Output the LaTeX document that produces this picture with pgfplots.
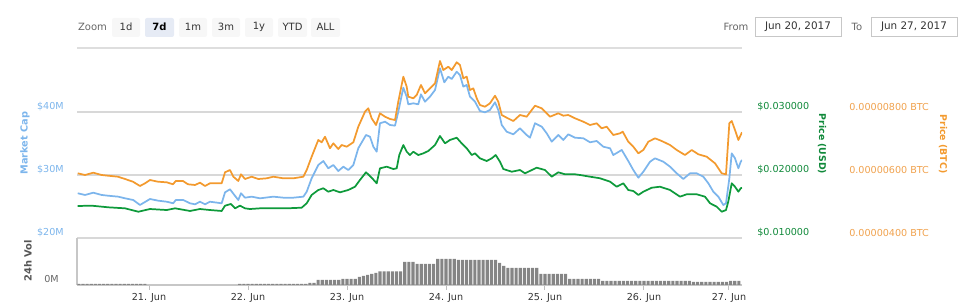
\documentclass[border=0pt]{standalone}
\usepackage{pgfplots}
\pgfplotsset{compat=1.18}
\usepackage{pgfplotstable}
\usepackage{fontspec}
\setmainfont{DejaVu Sans}
\definecolor{mcap}{HTML}{7CB5EC}
\definecolor{usd}{HTML}{0E9A3B}
\definecolor{usdtxt}{HTML}{10893A}
\definecolor{btc}{HTML}{F39A2E}
\definecolor{btctxt}{HTML}{F0A24E}
\definecolor{gridc}{HTML}{D8D8D8}
\definecolor{btnbg}{HTML}{F7F7F7}
\definecolor{btnsel}{HTML}{E6EBF5}
\definecolor{txt}{HTML}{333333}
\definecolor{voltxt}{HTML}{555555}
\definecolor{volbar}{HTML}{858585}

% Market cap (USD millions) vs day (0 = 20 Jun 00:00)
\pgfplotstableread{
x y
0.280 27.10
0.354 26.83
0.437 27.19
0.522 26.83
0.589 26.71
0.690 26.56
0.758 26.30
0.841 26.03
0.909 25.24
1.010 26.19
1.094 25.92
1.179 25.76
1.245 25.51
1.270 26.03
1.346 26.03
1.414 25.51
1.465 25.35
1.515 25.76
1.566 25.35
1.616 25.76
1.734 25.51
1.768 27.25
1.818 27.73
1.862 26.83
1.902 26.03
1.929 27.10
1.970 26.40
2.037 26.56
2.121 26.30
2.256 26.56
2.357 26.40
2.458 26.40
2.559 26.56
2.593 27.35
2.643 29.48
2.710 31.59
2.761 32.22
2.811 31.06
2.862 31.59
2.912 30.63
2.963 31.32
3.013 30.79
3.064 31.59
3.114 34.24
3.192 36.35
3.232 36.08
3.266 34.49
3.300 33.70
3.333 38.21
3.384 38.46
3.434 37.94
3.485 37.83
3.518 40.05
3.569 43.86
3.603 42.43
3.619 41.22
3.670 41.38
3.720 41.22
3.747 42.81
3.788 41.63
3.838 42.43
3.889 43.49
3.939 46.94
3.983 44.71
4.023 45.60
4.058 45.24
4.108 46.40
4.141 45.87
4.175 44.02
4.209 44.29
4.242 42.43
4.293 41.63
4.343 40.16
4.394 39.95
4.444 40.32
4.495 41.54
4.528 40.32
4.563 37.94
4.613 36.87
4.680 36.46
4.747 37.41
4.815 36.35
4.848 35.92
4.899 38.21
4.967 37.67
5.017 36.62
5.068 35.29
5.134 36.35
5.185 35.56
5.235 36.46
5.303 35.92
5.387 35.83
5.455 35.19
5.522 35.40
5.589 34.49
5.657 34.24
5.690 33.17
5.775 33.97
5.841 32.22
5.892 30.79
5.943 29.57
5.993 30.52
6.061 32.11
6.111 32.65
6.195 32.11
6.263 31.32
6.330 30.27
6.397 29.37
6.465 30.27
6.532 30.27
6.599 29.73
6.650 28.68
6.700 27.35
6.751 26.56
6.801 25.24
6.828 25.51
6.862 29.48
6.886 33.44
6.919 32.65
6.953 31.06
6.977 32.11
6.990 32.38
}\mcaptable

% Price in USD
\pgfplotstableread{
x y
0.280 0.01508
0.421 0.01513
0.589 0.01487
0.758 0.01471
0.892 0.01417
1.010 0.01460
1.179 0.01444
1.263 0.01471
1.414 0.01429
1.515 0.01460
1.616 0.01444
1.734 0.01429
1.768 0.01513
1.828 0.01540
1.869 0.01471
1.919 0.01513
1.970 0.01471
2.020 0.01460
2.121 0.01471
2.256 0.01471
2.391 0.01471
2.542 0.01481
2.593 0.01551
2.643 0.01683
2.710 0.01762
2.761 0.01789
2.811 0.01735
2.862 0.01762
2.929 0.01725
3.013 0.01762
3.081 0.01814
3.131 0.01921
3.192 0.02043
3.249 0.01957
3.300 0.01868
3.333 0.02106
3.401 0.02132
3.468 0.02095
3.502 0.02106
3.528 0.02317
3.569 0.02476
3.603 0.02370
3.636 0.02317
3.670 0.02370
3.720 0.02317
3.771 0.02344
3.821 0.02381
3.889 0.02476
3.939 0.02619
3.990 0.02503
4.040 0.02556
4.108 0.02592
4.158 0.02503
4.209 0.02424
4.260 0.02317
4.293 0.02344
4.343 0.02265
4.411 0.02222
4.462 0.02265
4.502 0.02317
4.545 0.02211
4.579 0.02095
4.664 0.02052
4.747 0.02079
4.798 0.02027
4.916 0.02116
5.000 0.02079
5.068 0.01973
5.134 0.02043
5.202 0.02011
5.303 0.02011
5.354 0.02000
5.455 0.01973
5.556 0.01948
5.657 0.01894
5.724 0.01814
5.791 0.01868
5.841 0.01762
5.892 0.01746
5.943 0.01683
5.993 0.01735
6.078 0.01798
6.162 0.01814
6.263 0.01762
6.364 0.01656
6.431 0.01694
6.532 0.01694
6.616 0.01656
6.667 0.01551
6.734 0.01497
6.785 0.01417
6.828 0.01444
6.851 0.01576
6.886 0.01868
6.919 0.01814
6.953 0.01735
6.977 0.01789
6.990 0.01798
}\usdtable

% Price in BTC (units of 0.000001 BTC)
\pgfplotstableread{
x y
0.280 6.054
0.354 6.000
0.437 6.073
0.522 6.000
0.586 5.978
0.687 5.946
0.758 5.873
0.838 5.787
0.909 5.651
0.960 5.737
1.010 5.841
1.091 5.787
1.179 5.768
1.242 5.705
1.270 5.810
1.343 5.810
1.394 5.705
1.465 5.683
1.515 5.756
1.566 5.651
1.616 5.737
1.734 5.737
1.768 6.086
1.818 6.159
1.852 5.946
1.902 5.810
1.929 6.022
1.970 5.873
2.037 5.946
2.104 5.873
2.189 5.895
2.256 5.946
2.357 5.895
2.458 5.895
2.559 5.946
2.593 6.159
2.643 6.581
2.710 7.111
2.744 7.038
2.778 7.216
2.828 6.848
2.862 7.006
2.912 6.825
2.946 6.952
2.997 6.898
3.064 7.038
3.114 7.533
3.182 8.010
3.215 8.117
3.249 7.800
3.293 7.587
3.333 7.959
3.384 7.851
3.434 7.778
3.485 7.746
3.518 8.327
3.569 9.121
3.603 8.803
3.619 8.486
3.670 8.435
3.704 8.540
3.747 8.857
3.788 8.594
3.838 8.752
3.889 8.911
3.939 9.619
3.973 9.333
4.023 9.438
4.058 9.333
4.108 9.578
4.141 9.492
4.175 9.070
4.209 9.121
4.242 8.698
4.276 8.752
4.310 8.435
4.343 8.222
4.394 8.168
4.444 8.276
4.495 8.517
4.528 8.327
4.563 7.905
4.613 7.819
4.680 7.714
4.747 7.905
4.815 7.851
4.899 8.200
4.967 8.117
5.051 7.851
5.134 7.959
5.185 7.883
5.235 7.905
5.303 7.800
5.387 7.692
5.455 7.587
5.522 7.641
5.573 7.483
5.623 7.533
5.690 7.270
5.758 7.324
5.785 7.375
5.841 7.057
5.892 6.898
5.943 6.689
5.993 6.794
6.044 7.057
6.111 7.165
6.179 7.079
6.263 6.952
6.330 6.794
6.414 6.635
6.482 6.794
6.549 6.657
6.633 6.581
6.717 6.371
6.785 6.054
6.828 6.022
6.862 7.641
6.886 7.714
6.919 7.429
6.953 7.111
6.977 7.270
6.990 7.356
}\btctable

% 24h volume (USD millions) by hour (0 = 20 Jun 00:00)
\pgfplotstableread{
h v
7 0.04
8 0.04
9 0.04
10 0.04
11 0.04
12 0.04
13 0.04
14 0.04
15 0.04
16 0.04
17 0.04
18 0.04
19 0.04
20 0.04
21 0.04
22 0.04
23 0.04
46 0.04
47 0.04
48 0.04
49 0.04
50 0.04
51 0.04
52 0.04
53 0.04
54 0.04
55 0.04
56 0.04
57 0.04
58 0.04
59 0.04
60 0.04
61 0.04
62 0.04
63 0.08
64 0.08
65 0.20
66 0.20
67 0.20
68 0.20
69 0.20
70 0.20
71 0.24
72 0.24
73 0.24
74 0.24
75 0.32
76 0.36
77 0.40
78 0.44
79 0.48
80 0.54
81 0.54
82 0.54
83 0.54
84 0.54
85 0.54
86 0.92
87 0.92
88 0.92
89 0.84
90 0.84
91 0.84
92 0.84
93 0.84
94 1.04
95 1.04
96 1.04
97 1.04
98 1.04
99 1.00
100 1.00
101 1.00
102 1.00
103 1.00
104 1.00
105 1.00
106 1.00
107 1.00
108 1.00
109 0.88
110 0.76
111 0.68
112 0.68
113 0.68
114 0.68
115 0.68
116 0.68
117 0.68
118 0.68
119 0.44
120 0.44
121 0.44
122 0.44
123 0.44
124 0.44
125 0.44
126 0.24
127 0.24
128 0.24
129 0.24
130 0.24
131 0.24
132 0.24
133 0.24
134 0.16
135 0.16
136 0.16
137 0.16
138 0.16
139 0.16
140 0.16
141 0.16
142 0.16
143 0.16
144 0.16
145 0.16
146 0.16
147 0.16
148 0.16
149 0.16
150 0.16
151 0.16
152 0.16
153 0.16
154 0.16
155 0.16
156 0.12
157 0.12
158 0.12
159 0.12
160 0.12
161 0.12
162 0.12
163 0.12
164 0.12
165 0.16
166 0.16
167 0.16
}\voltable

\pgfplotsset{
  mainax/.style={
    at={(57.75pt,48.75pt)}, anchor=south west,
    width=498.75pt, height=142.5pt, scale only axis,
    xmin=0.27273, xmax=6.9899,
    axis line style={draw=none},
    xtick=\empty,
    major tick length=0pt,
    scaled y ticks=false,
    tick label style={font=\fontsize{7.2}{8}\selectfont, inner sep=0pt},
  },
}

\begin{document}
\begin{tikzpicture}[x=0.75pt,y=0.75pt]
\path[use as bounding box] (0,0) rectangle (960,303);

% ---- range selector ----
\node[text=black!60, font=\fontsize{7.5}{9}\selectfont] at (92.5,276) {Zoom};
\foreach \a/\b/\t in {112/140/1d,179/207/1m,212/240/3m,245/273/1y,278/307/YTD,311/340/ALL}{
  \fill[btnbg, rounded corners=1.5pt] (\a,266) rectangle (\b,285);
  \node[text=txt, font=\fontsize{7.5}{9}\selectfont] at ({(\a+\b)/2},276) {\t};
}
\fill[btnsel, rounded corners=1.5pt] (145,266) rectangle (174,285);
\node[text=black, font=\bfseries\fontsize{7.5}{9}\selectfont] at (159.5,276) {7d};

\node[text=black!60, font=\fontsize{7.5}{9}\selectfont] at (736,276) {From};
\draw[black!22, line width=0.75pt, fill=white] (755,266) rectangle (841,285);
\node[text=txt, font=\fontsize{7.8}{9}\selectfont] at (798,276) {Jun 20, 2017};
\node[text=black!60, font=\fontsize{7.5}{9}\selectfont] at (857,276) {To};
\draw[black!22, line width=0.75pt, fill=white] (871,266) rectangle (957,285);
\node[text=txt, font=\fontsize{7.8}{9}\selectfont] at (914,276) {Jun 27, 2017};

\draw[black!13, line width=1.1pt] (77,255) -- (742,255);

% ---- market cap axis (left) ----
\begin{axis}[mainax,
  ymin=20, ymax=50.159,
  ytick={20,30,40},
  yticklabels={\$20M,\$30M,\$40M},
  yticklabel style={anchor=east, xshift=-9.75pt, yshift=3.75pt, text=mcap},
  ymajorgrids, grid style={gridc, line width=0.9pt},
]
\addplot[mcap, line width=1.3pt, line join=round] table[x=x,y=y]{\mcaptable};
\end{axis}

% ---- price USD axis ----
\begin{axis}[mainax,
  ymin=0.01, ymax=0.040159,
  ytick={0.01,0.02,0.03},
  yticklabels={\$0.010000,\$0.020000,\$0.030000},
  yticklabel pos=right,
  yticklabel style={anchor=west, xshift=11.25pt, yshift=3.75pt, text=usdtxt},
]
\addplot[usd, line width=1.3pt, line join=round] table[x=x,y=y]{\usdtable};
\end{axis}

% ---- price BTC axis ----
\begin{axis}[mainax,
  ymin=4, ymax=10.032,
  ytick={4,6,8},
  yticklabels={0.00000400 BTC,0.00000600 BTC,0.00000800 BTC},
  yticklabel pos=right,
  yticklabel style={anchor=west, xshift=80.25pt, yshift=3.75pt, text=btctxt},
]
\addplot[btc, line width=1.3pt, line join=round] table[x=x,y=y]{\btctable};
\end{axis}

% ---- volume axis ----
\begin{axis}[
  at={(57.75pt,13.5pt)}, anchor=south west,
  width=498.75pt, height=35.25pt, scale only axis,
  xmin=6.545, xmax=167.76, ymin=0, ymax=1.88,
  axis x line*=bottom, axis y line*=left,
  axis line style={-, draw=black!22, line width=0.9pt},
  xtick={24,48,72,96,120,144,164.6},
  xticklabels={21. Jun,22. Jun,23. Jun,24. Jun,25. Jun,26. Jun,27. Jun},
  xtick style={draw=black!25, line width=0.75pt},
  tick align=outside, major tick length=3.75pt,
  ytick={0}, yticklabels={0M},
  ytick style={draw=none},
  yticklabel style={anchor=east, inner sep=0pt, xshift=-9.75pt, yshift=4.5pt, text=black!60},
  xticklabel style={inner sep=0pt, anchor=north, yshift=-2pt, text=txt},
  tick label style={font=\fontsize{7.2}{8}\selectfont},
]
\addplot[ybar, bar width=2.4pt, fill=volbar, draw=none] table[x=h,y=v]{\voltable};
\end{axis}

% ---- axis titles ----
\node[rotate=90, text=mcap, font=\bfseries\fontsize{7.3}{8}\selectfont] at (25,160) {Market Cap};
\node[rotate=90, text=voltxt, font=\bfseries\fontsize{7.4}{8}\selectfont] at (28,42) {24h Vol};
\node[rotate=-90, text=usdtxt, font=\bfseries\fontsize{7.0}{8}\selectfont] at (822,159) {Price (USD)};
\node[rotate=-90, text=btc, font=\bfseries\fontsize{7.0}{8}\selectfont] at (943,159) {Price (BTC)};
\end{tikzpicture}
\end{document}
